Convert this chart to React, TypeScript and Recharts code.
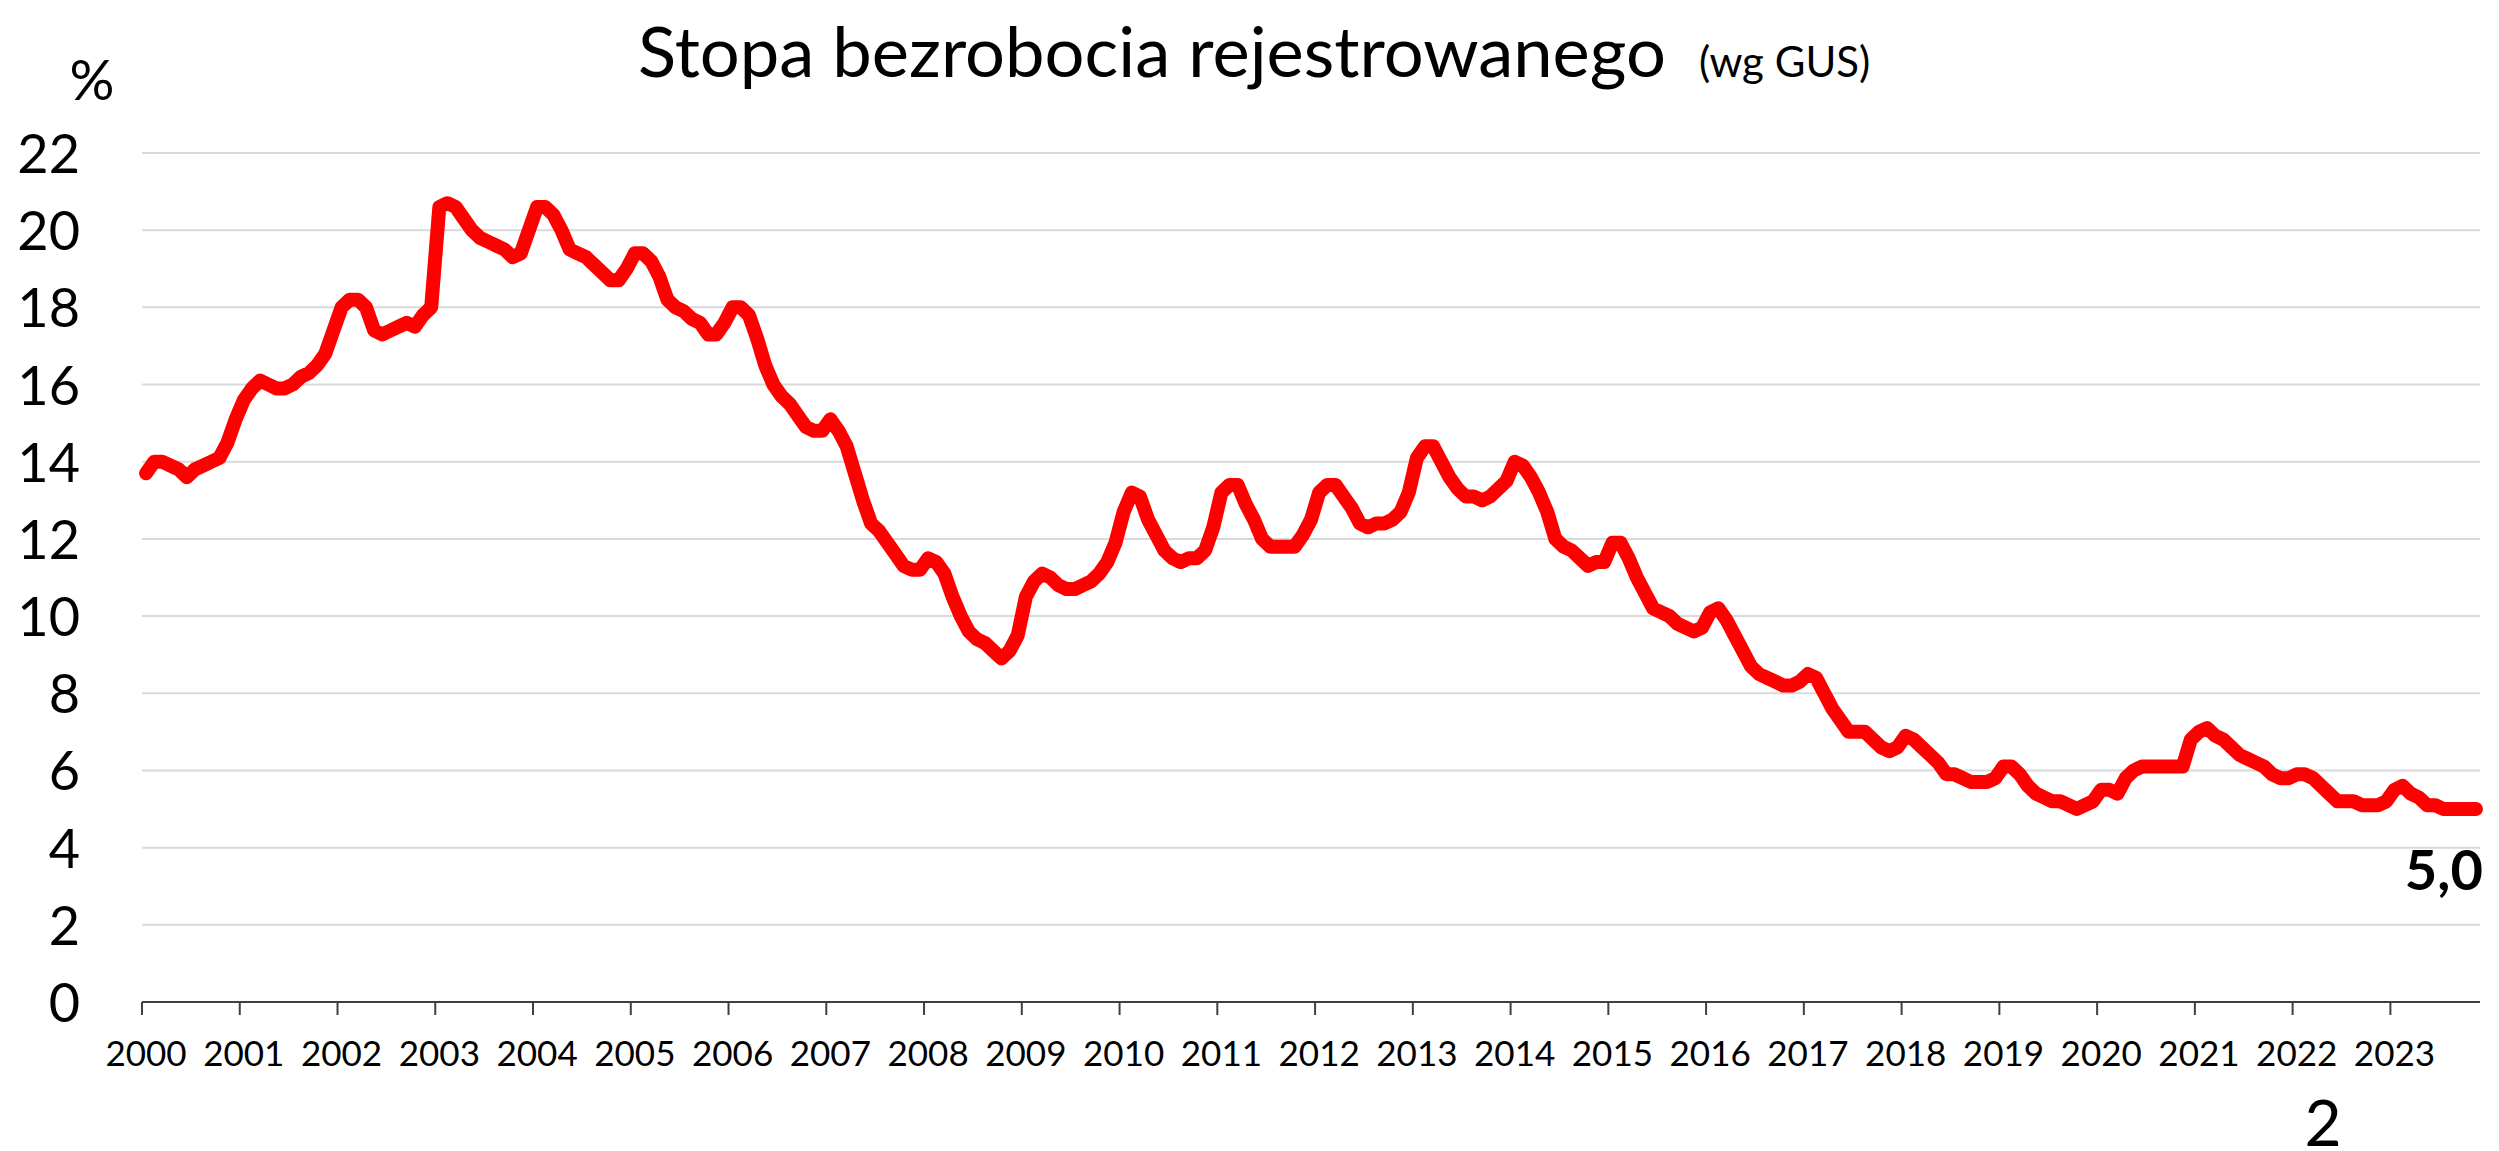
import { LineChart, Line, XAxis, YAxis, CartesianGrid, LabelList } from "recharts";

// monthly registered unemployment rate, Jan 2000 .. Nov 2023
const rates: number[] = [
  13.7, 14.0, 14.0, 13.9, 13.8, 13.6, 13.8, 13.9, 14.0, 14.1, 14.5, 15.1, // 2000
  15.6, 15.9, 16.1, 16.0, 15.9, 15.9, 16.0, 16.2, 16.3, 16.5, 16.8, 17.4, // 2001
  18.0, 18.2, 18.2, 18.0, 17.4, 17.3, 17.4, 17.5, 17.6, 17.5, 17.8, 18.0, // 2002
  20.6, 20.7, 20.6, 20.3, 20.0, 19.8, 19.7, 19.6, 19.5, 19.3, 19.4, 20.0, // 2003
  20.6, 20.6, 20.4, 20.0, 19.5, 19.4, 19.3, 19.1, 18.9, 18.7, 18.7, 19.0, // 2004
  19.4, 19.4, 19.2, 18.8, 18.2, 18.0, 17.9, 17.7, 17.6, 17.3, 17.3, 17.6, // 2005
  18.0, 18.0, 17.8, 17.2, 16.5, 16.0, 15.7, 15.5, 15.2, 14.9, 14.8, 14.8, // 2006
  15.1, 14.8, 14.4, 13.7, 13.0, 12.4, 12.2, 11.9, 11.6, 11.3, 11.2, 11.2, // 2007
  11.5, 11.4, 11.1, 10.5, 10.0, 9.6, 9.4, 9.3, 9.1, 8.9, 9.1, 9.5, // 2008
  10.5, 10.9, 11.1, 11.0, 10.8, 10.7, 10.7, 10.8, 10.9, 11.1, 11.4, 11.9, // 2009
  12.7, 13.2, 13.1, 12.5, 12.1, 11.7, 11.5, 11.4, 11.5, 11.5, 11.7, 12.3, // 2010
  13.2, 13.4, 13.4, 12.9, 12.5, 12.0, 11.8, 11.8, 11.8, 11.8, 12.1, 12.5, // 2011
  13.2, 13.4, 13.4, 13.1, 12.8, 12.4, 12.3, 12.4, 12.4, 12.5, 12.7, 13.2, // 2012
  14.1, 14.4, 14.4, 14.0, 13.6, 13.3, 13.1, 13.1, 13.0, 13.1, 13.3, 13.5, // 2013
  14.0, 13.9, 13.6, 13.2, 12.7, 12.0, 11.8, 11.7, 11.5, 11.3, 11.4, 11.4, // 2014
  11.9, 11.9, 11.5, 11.0, 10.6, 10.2, 10.1, 10.0, 9.8, 9.7, 9.6, 9.7, // 2015
  10.1, 10.2, 9.9, 9.5, 9.1, 8.7, 8.5, 8.4, 8.3, 8.2, 8.2, 8.3, // 2016
  8.5, 8.4, 8.0, 7.6, 7.3, 7.0, 7.0, 7.0, 6.8, 6.6, 6.5, 6.6, // 2017
  6.9, 6.8, 6.6, 6.4, 6.2, 5.9, 5.9, 5.8, 5.7, 5.7, 5.7, 5.8, // 2018
  6.1, 6.1, 5.9, 5.6, 5.4, 5.3, 5.2, 5.2, 5.1, 5.0, 5.1, 5.2, // 2019
  5.5, 5.5, 5.4, 5.8, 6.0, 6.1, 6.1, 6.1, 6.1, 6.1, 6.1, 6.8, // 2020
  7.0, 7.1, 6.9, 6.8, 6.6, 6.4, 6.3, 6.2, 6.1, 5.9, 5.8, 5.8, // 2021
  5.9, 5.9, 5.8, 5.6, 5.4, 5.2, 5.2, 5.2, 5.1, 5.1, 5.1, 5.2, // 2022
  5.5, 5.6, 5.4, 5.3, 5.1, 5.1, 5.0, 5.0, 5.0, 5.0, 5.0, // 2023
];

const yearLabels = [
  "2000", "2001", "2002", "2003", "2004", "2005", "2006", "2007",
  "2008", "2009", "2010", "2011", "2012", "2013", "2014", "2015",
  "2016", "2017", "2018", "2019", "2020", "2021", "2022", "2023",
];

const yTicks = [0, 2, 4, 6, 8, 10, 12, 14, 16, 18, 20, 22];

const W = 2499;
const H = 1151;
const PLOT_LEFT = 142;
const PLOT_RIGHT = 2480;
const PLOT_TOP = 153;
const PLOT_BOTTOM = 1002;
const Y_AXIS_W = 100;
const X_AXIS_H = 80;
const N = rates.length;
const HALF_CAT = (PLOT_RIGHT - PLOT_LEFT) / N / 2;
const FONT = "Lato, 'Open Sans', sans-serif";

const chartData = rates.map((v, i) => ({ i, v }));

function XTick({ x, payload }: { x?: number; payload?: { value: number } }) {
  if (x == null || !payload) return null;
  const label = yearLabels[Math.round(payload.value / 12)];
  const tx = x - HALF_CAT;
  return (
    <g>
      <line x1={tx} x2={tx} y1={PLOT_BOTTOM} y2={PLOT_BOTTOM + 13} stroke="#404040" strokeWidth={2} />
      <text x={x} y={PLOT_BOTTOM + 64} textAnchor="middle" fontSize={35} fontFamily={FONT} fill="#000">
        {label}
      </text>
    </g>
  );
}

function YTick({ y, payload }: { y?: number; payload?: { value: number } }) {
  if (y == null || !payload) return null;
  return (
    <text x={80} y={y + 20} textAnchor="end" fontSize={54} fontFamily={FONT} fill="#000">
      {payload.value}
    </text>
  );
}

function EndLabel(props: { x?: number | string; y?: number | string; index?: number; value?: number | string }) {
  if (props.index !== N - 1) return null;
  const x = Number(props.x);
  const y = Number(props.y);
  return (
    <text x={x + 7} y={y + 81} textAnchor="end" fontSize={56} fontWeight={700} fontFamily={FONT} fill="#000">
      {Number(props.value).toFixed(1).replace(".", ",")}
    </text>
  );
}

export default function App() {
  return (
    <div style={{ position: "absolute", left: 0, top: 0, width: W, height: H, background: "#fff" }}>
      <LineChart
        width={W}
        height={H}
        data={chartData}
        margin={{
          top: PLOT_TOP,
          right: W - PLOT_RIGHT,
          bottom: H - PLOT_BOTTOM - X_AXIS_H,
          left: PLOT_LEFT - Y_AXIS_W,
        }}
      >
        <CartesianGrid vertical={false} stroke="#d9d9d9" strokeWidth={2} />
        <XAxis
          type="number"
          dataKey="i"
          domain={[-0.5, N - 0.5]}
          ticks={yearLabels.map((_, k) => k * 12)}
          interval={0}
          height={X_AXIS_H}
          tickLine={false}
          tick={<XTick />}
          axisLine={{ stroke: "#404040", strokeWidth: 2 }}
        />
        <YAxis
          type="number"
          domain={[0, 22]}
          ticks={yTicks}
          interval={0}
          width={Y_AXIS_W}
          axisLine={false}
          tickLine={false}
          tick={<YTick />}
        />
        <Line
          type="linear"
          dataKey="v"
          stroke="#ff0000"
          strokeWidth={14}
          strokeLinecap="round"
          strokeLinejoin="round"
          dot={false}
          activeDot={false}
          isAnimationActive={false}
        >
          <LabelList dataKey="v" content={<EndLabel />} />
        </Line>
      </LineChart>
      <svg
        width={W}
        height={H}
        style={{ position: "absolute", left: 0, top: 0, pointerEvents: "none" }}
      >
        <text x={638} y={77} fontSize={70.5} fontFamily={FONT} fill="#000">
          Stopa bezrobocia rejestrowanego
        </text>
        <text x={1699} y={77} fontSize={42} fontFamily={FONT} fill="#000">
          (wg GUS)
        </text>
        <text x={92} y={100} textAnchor="middle" fontSize={56} fontFamily={FONT} fill="#000">
          %
        </text>
        <text x={2323} y={1146} textAnchor="middle" fontSize={64} fontFamily={FONT} fill="#000">
          2
        </text>
      </svg>
    </div>
  );
}
